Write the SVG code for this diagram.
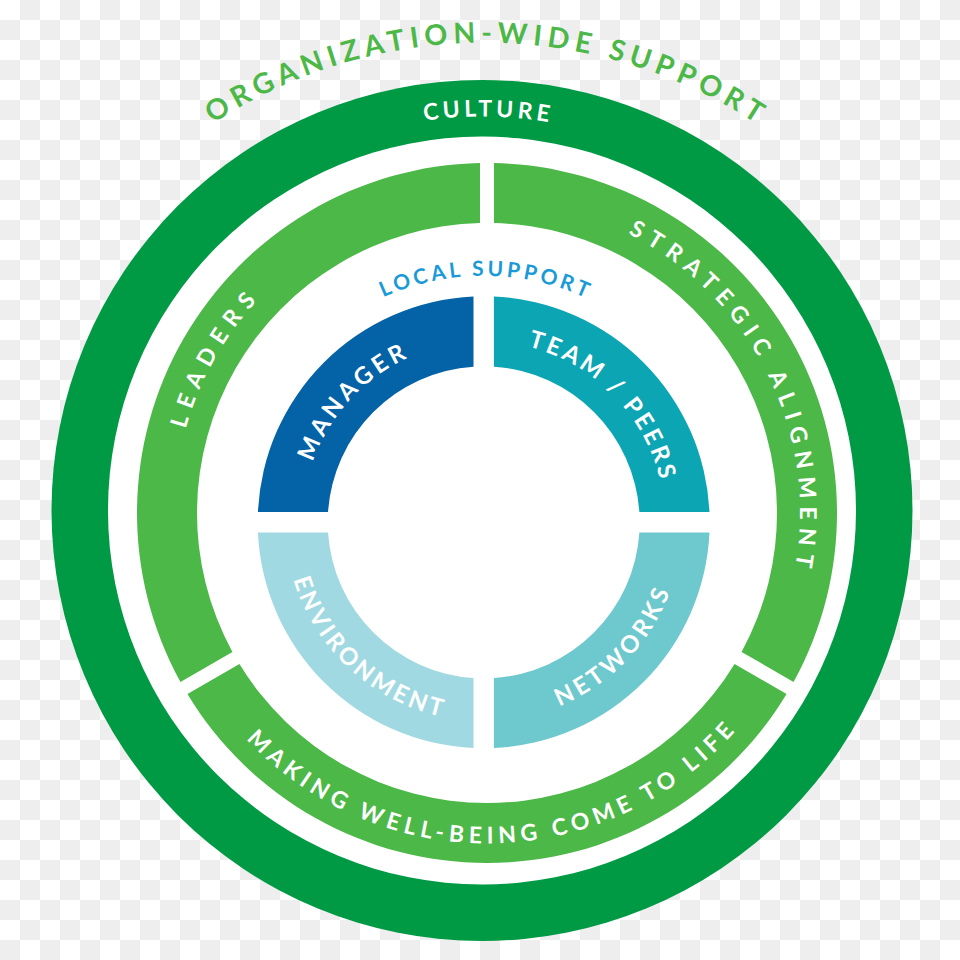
<svg xmlns="http://www.w3.org/2000/svg" xmlns:xlink="http://www.w3.org/1999/xlink" width="960" height="960" viewBox="0 0 960 960">
  <style>
    .lbl { font-family: Lato, "Open Sans", "Liberation Sans", sans-serif; font-weight: 700; fill: #ffffff; text-anchor: middle; }
    .org { fill: #4cb848; font-size: 28.5px; }
    .ring { font-size: 23px; }
    .local { fill: #1a9bd7; font-size: 21px; }
    .quad { font-size: 24px; }
    .band { fill: #4cb848; }
  </style>
  <defs>
    <pattern id="chk" width="40" height="40" patternUnits="userSpaceOnUse">
      <rect width="40" height="40" fill="#ffffff"/>
      <rect x="20" y="0" width="20" height="20" fill="#eeeeee"/>
      <rect x="0" y="20" width="20" height="20" fill="#eeeeee"/>
    </pattern>
    <!-- clockwise arcs (midpoint at top) -->
    <path id="p-org" d="M -496.5,0 A 496.5 496.5 0 0 1 496.5,0"/>
    <path id="p-culture" d="M -394,0 A 394 394 0 0 1 394,0"/>
    <path id="p-green-cw" d="M -313,0 A 313 313 0 0 1 313,0"/>
    <path id="p-local" d="M -246.5,0 A 246.5 246.5 0 0 1 246.5,0"/>
    <path id="p-quad-cw" d="M -181.3,0 A 181.3 181.3 0 0 1 181.3,0"/>
    <!-- counter-clockwise arcs (midpoint at bottom) -->
    <path id="p-green-ccw" d="M -330.5,0 A 330.5 330.5 0 0 0 330.5,0"/>
    <path id="p-quad-ccw" d="M -198.75,0 A 198.75 198.75 0 0 0 198.75,0"/>
  </defs>

  <rect x="0" y="0" width="960" height="960" fill="url(#chk)"/>

  <g id="org-wide-support">
    <text class="lbl org" transform="translate(484.5 539.2)"><textPath xlink:href="#p-org" href="#p-org" startOffset="50%" textLength="575" lengthAdjust="spacing">ORGANIZATION-WIDE SUPPORT</textPath></text>
  </g>

  <g id="culture">
    <circle cx="482" cy="510.5" r="430.5" fill="#009a44"/>
    <circle cx="482" cy="510.5" r="374" fill="#ffffff"/>
    <text class="lbl ring" transform="translate(482 510.5) rotate(0.65)"><textPath xlink:href="#p-culture" href="#p-culture" startOffset="50%" textLength="125" lengthAdjust="spacing">CULTURE</textPath></text>
  </g>

  <g id="leaders">
    <path class="band" d="M180.45,681.90 A350,350 0 0 1 480,163.07 L480,223.09 A290,290 0 0 0 232.43,651.90 Z"/>
    <text class="lbl ring" transform="translate(487 513) rotate(-60.9)"><textPath xlink:href="#p-green-cw" href="#p-green-cw" startOffset="50%" textLength="148" lengthAdjust="spacing">LEADERS</textPath></text>
  </g>

  <g id="strategic-alignment">
    <path class="band" d="M494,163.07 A350,350 0 0 1 793.55,681.90 L741.57,651.90 A290,290 0 0 0 494,223.09 Z"/>
    <text class="lbl ring" transform="translate(487 513) rotate(63.3)"><textPath xlink:href="#p-green-cw" href="#p-green-cw" startOffset="50%" textLength="399" lengthAdjust="spacing">STRATEGIC ALIGNMENT</textPath></text>
  </g>

  <g id="making-well-being">
    <path class="band" d="M786.55,694.03 A350,350 0 0 1 187.45,694.03 L239.43,664.02 A290,290 0 0 0 734.57,664.02 Z"/>
    <text class="lbl ring" transform="translate(487 513) rotate(-0.9)"><textPath xlink:href="#p-green-ccw" href="#p-green-ccw" startOffset="50%" textLength="550" lengthAdjust="spacing">MAKING WELL-BEING COME TO LIFE</textPath></text>
  </g>

  <g id="local-support">
    <text class="lbl local" transform="translate(483.7 522.3) rotate(0.2)"><textPath xlink:href="#p-local" href="#p-local" startOffset="50%" textLength="209" lengthAdjust="spacing">LOCAL SUPPORT</textPath></text>
  </g>

  <g id="manager">
    <path fill="#0462a6" d="M257.93,512.1 A226,226 0 0 1 473.5,296.53 L473.5,366.63 A156,156 0 0 0 328.03,512.1 Z"/>
    <text class="lbl quad" transform="translate(483.7 522.3) rotate(-47.8)"><textPath xlink:href="#p-quad-cw" href="#p-quad-cw" startOffset="50%" textLength="144.6" lengthAdjust="spacing">MANAGER</textPath></text>
  </g>

  <g id="team-peers">
    <path fill="#0ba5b4" d="M493.9,296.53 A226,226 0 0 1 709.47,512.1 L639.37,512.1 A156,156 0 0 0 493.9,366.63 Z"/>
    <text class="lbl quad" transform="translate(483.7 522.3) rotate(45.2)"><textPath xlink:href="#p-quad-cw" href="#p-quad-cw" startOffset="50%" textLength="197.4" lengthAdjust="spacing">TEAM / PEERS</textPath></text>
  </g>

  <g id="networks">
    <path fill="#6dc9ce" d="M709.47,532.5 A226,226 0 0 1 493.9,748.07 L493.9,677.97 A156,156 0 0 0 639.37,532.5 Z"/>
    <text class="lbl quad" transform="translate(483.7 522.3) rotate(-45.85)"><textPath xlink:href="#p-quad-ccw" href="#p-quad-ccw" startOffset="50%" textLength="163.4" lengthAdjust="spacing">NETWORKS</textPath></text>
  </g>

  <g id="environment">
    <path fill="#a1d9e2" d="M473.5,748.07 A226,226 0 0 1 257.93,532.5 L328.03,532.5 A156,156 0 0 0 473.5,677.97 Z"/>
    <text class="lbl quad" transform="translate(483.7 522.3) rotate(42.85)"><textPath xlink:href="#p-quad-ccw" href="#p-quad-ccw" startOffset="50%" textLength="211.3" lengthAdjust="spacing">ENVIRONMENT</textPath></text>
  </g>

  <g id="connectors"/>
</svg>
